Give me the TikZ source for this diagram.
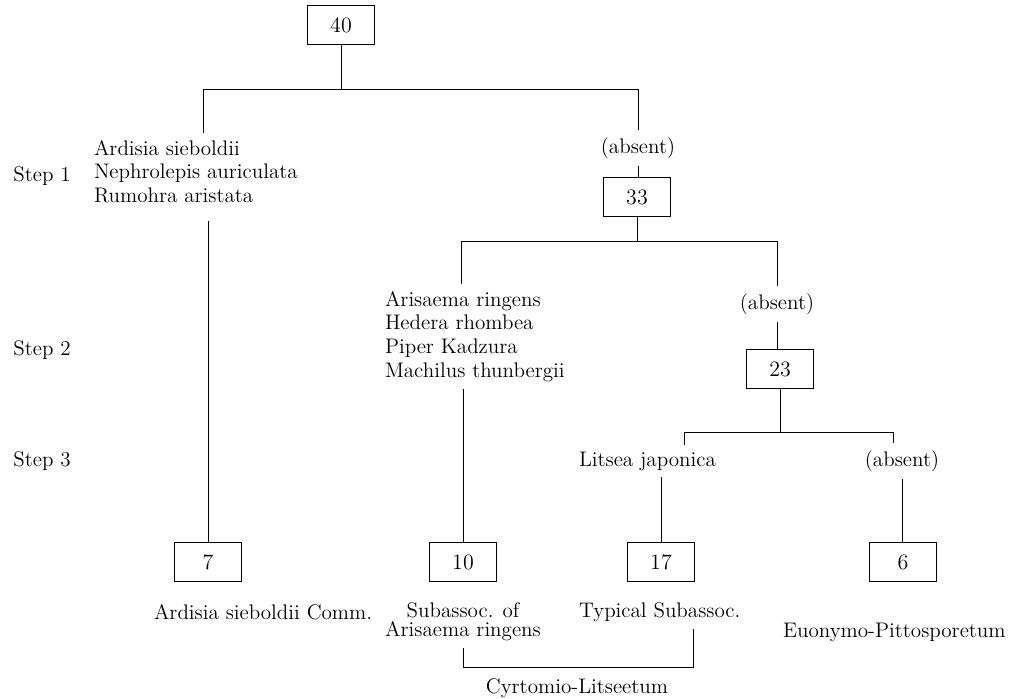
\documentclass[tikz,border=0pt]{standalone}
\usepackage{amsmath}
\usepackage{tikz}

\begin{document}
\begin{tikzpicture}[x=0.02cm, y=-0.02cm, line width=0.45pt,
	font=\fontsize{12}{13.6}\selectfont,
	numbox/.style={shape=rectangle,draw=black,minimum width=1.34cm,minimum height=0.78cm,inner sep=0pt,font=\fontsize{12.5}{14}\selectfont},
	taxa/.style={align=left,anchor=north west,inner sep=0pt,outer xsep=0pt,outer ysep=4pt},
	tag/.style={inner sep=0pt,outer xsep=0pt,outer ysep=4pt},
	steptag/.style={anchor=west,inner sep=0pt}]
	
	\useasboundingbox (0,0) rectangle (1027,698);
	
	% steps
	\node[steptag] (s1) at (13,176) {Step 1};
	\node[steptag] (s2) at (13,350) {Step 2};
	\node[steptag] (s3) at (13,461) {Step 3};
	
	% top
	\node[numbox] (n40) at (341,25) {40};
	\coordinate (j40l) at (203,89);
	\coordinate (j40r) at (638,89);
	
	\node[taxa] (sp1) at (94,133) {Ardisia sieboldii\\Nephrolepis auriculata\\Rumohra aristata};
	\node[tag] (a1) at (638,148) {(absent)};
	\node[numbox] (n33) at (637,197) {33};
	
	\coordinate (j33l) at (461,241);
	\coordinate (j33r) at (777,241);
	
	\node[taxa] (sp2) at (385,284) {Arisaema ringens\\Hedera rhombea\\Piper Kadzura\\Machilus thunbergii};
	\node[tag] (a2) at (777,304) {(absent)};
	\node[numbox] (n23) at (780,369) {23};
	
	\coordinate (j23l) at (684,432);
	\coordinate (j23r) at (893,432);
	
	\node[tag,anchor=west] (lit) at (579,461) {Litsea japonica};
	\node[tag] (a3) at (902,461) {(absent)};
	
	% bottom boxes
	\node[numbox] (n7) at (208,562) {7};
	\node[numbox] (n10) at (463,562) {10};
	\node[numbox] (n17) at (661,562) {17};
	\node[numbox] (n6) at (903,562) {6};
	
	\node[tag,anchor=west] (c7) at (154,612) {Ardisia sieboldii Comm.};
	\node[tag,align=center] (c10) at (463,622) {Subassoc. of\\[-3pt]Arisaema ringens};
	\node[tag,anchor=west] (c17) at (579,612) {Typical Subassoc.};
	\node[tag,anchor=west] (c6) at (783,632) {Euonymo-Pittosporetum};
	
	\coordinate (b10) at (463,667);
	\coordinate (b17) at (693,667);
	\node[tag] (cyr) at (577,688) {Cyrtomio-Litseetum};
	
	% connectors
	\draw (n40.south) -- (n40.south |- j40l);
	\draw (j40l) -- (j40r);
	\draw (j40l) -- (j40l |- sp1.north);
	\draw (j40r) -- (a1);
	\draw (a1) -- (a1 |- n33.north);
	\draw ([yshift=-6pt]sp1.south -| n7) -- (n7);
	
	\draw (n33) -- (n33 |- j33l);
	\draw (j33l) -- (j33r);
	\draw (j33l) -- (j33l |- sp2.north);
	\draw (j33r) -- (a2);
	\draw (a2) -- (a2 |- n23.north);
	\draw (sp2.south -| n10) -- (n10);
	
	\draw (n23) -- (n23 |- j23l);
	\draw (j23l) -- (j23r);
	\draw (j23l) -- (j23l |- lit.north);
	\draw (j23r) -- (j23r |- a3.north);
	\draw (lit.south -| n17) -- (n17);
	\draw (a3) -- (a3 |- n6.north);
	
	\draw (c10.south -| b10) -- (b10) -- (b17) -- (c17.south -| b17);

\end{tikzpicture}
\end{document}
